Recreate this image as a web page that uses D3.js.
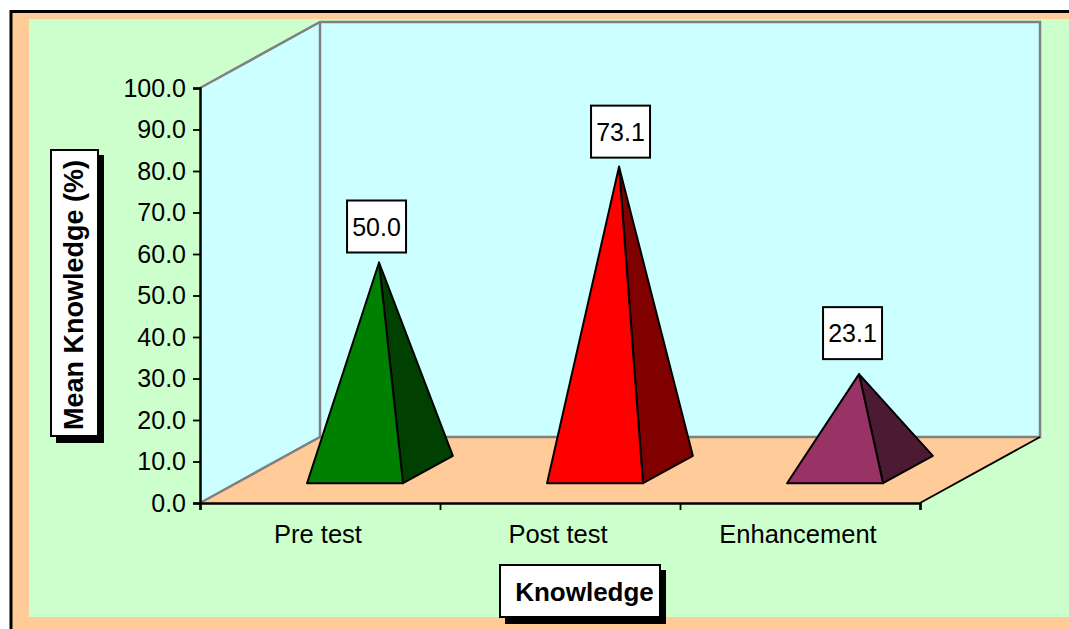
<!DOCTYPE html>
<html>
<head>
<meta charset="utf-8">
<script src="https://cdn.jsdelivr.net/npm/d3@7"></script>
<style>
    html, body { margin: 0; padding: 0; background: #fff; }
    svg { display: block; font-family: "Liberation Sans", Arial, sans-serif; }
</style>
</head>
<body>
<svg width="1069" height="629"></svg>
<script>
var categories = ['Pre test', 'Post test', 'Enhancement'];
var values = [50.0, 73.1, 23.1];
var frontColors = ['#008000', '#ff0000', '#993366'];
var sideColors = ['#004000', '#800000', '#4d1a33'];
var yTicks = [0, 10, 20, 30, 40, 50, 60, 70, 80, 90, 100];

var svg = d3.select('svg');

// plot box and the oblique offset of the back wall
var plotLeft = 200, plotRight = 920, plotTop = 88, plotBottom = 503;
var depthX = 120, depthY = -66;

var xScale = d3.scaleBand().domain(categories).range([plotLeft, plotRight]).paddingInner(0).paddingOuter(0);
var yScale = d3.scaleLinear().domain([0, 100]).range([plotBottom, plotTop]);
var xEdge = d3.scaleLinear().domain([0, 3]).range([plotLeft, plotRight]);

function poly(points, fill, stroke, width) {
    return svg.append('polygon')
        .attr('points', points.map(function (p) { return p.join(','); }).join(' '))
        .attr('fill', fill)
        .attr('stroke', stroke)
        .attr('stroke-width', width)
        .attr('stroke-linejoin', 'round');
}

function box(x, y, w, h, shadow) {
    if (shadow) {
        svg.append('rect').attr('x', x + 5).attr('y', y + 5).attr('width', w + 1).attr('height', h + 2).attr('fill', '#000');
    }
    svg.append('rect').attr('x', x).attr('y', y).attr('width', w).attr('height', h)
        .attr('fill', '#fff').attr('stroke', '#000').attr('stroke-width', 2);
}

// page frame
svg.append('rect').attr('x', 11).attr('y', 11.5).attr('width', 1070).attr('height', 640)
    .attr('fill', '#ffcc99').attr('stroke', '#000').attr('stroke-width', 3);
svg.append('rect').attr('x', 29).attr('y', 19).attr('width', 1040).attr('height', 598).attr('fill', '#ccffcc');

// walls and floor
poly([[plotLeft, plotTop], [plotLeft + depthX, plotTop + depthY], [plotRight + depthX, plotTop + depthY],
    [plotRight + depthX, plotBottom + depthY], [plotLeft + depthX, plotBottom + depthY], [plotLeft, plotBottom]], '#ccffff', 'none', 0);
poly([[plotLeft, plotBottom], [plotLeft + depthX, plotBottom + depthY], [plotRight + depthX, plotBottom + depthY], [plotRight, plotBottom]], '#ffcc99', 'none', 0);
svg.append('path')
    .attr('d', d3.line()([[plotLeft, plotBottom], [plotLeft + depthX, plotBottom + depthY], [plotRight + depthX, plotBottom + depthY],
        [plotRight + depthX, plotTop + depthY], [plotLeft + depthX, plotTop + depthY], [plotLeft, plotTop]]))
    .attr('fill', 'none').attr('stroke', '#808080').attr('stroke-width', 2.5);
svg.append('line').attr('x1', plotLeft + depthX).attr('x2', plotLeft + depthX)
    .attr('y1', plotTop + depthY).attr('y2', plotBottom + depthY)
    .attr('stroke', '#808080').attr('stroke-width', 2.5);
svg.append('line').attr('x1', plotRight).attr('y1', plotBottom).attr('x2', plotRight + depthX).attr('y2', plotBottom + depthY)
    .attr('stroke', '#000').attr('stroke-width', 1.8);

// pyramids
var barShare = 0.4;
var depthFront = 0.292, depthMid = 0.492, depthBack = 0.707;
// the data labels were dragged by hand in the original, so each sits a bit differently
var labelDx = [-32, -28, -36];
var labelDy = [-62, -61, -67];
categories.forEach(function (c, i) {
    var mid = xScale(c) + xScale.bandwidth() / 2;
    var half = xScale.bandwidth() * barShare / 2;
    var x0 = mid - half + depthFront * depthX;
    var x1 = mid + half + depthFront * depthX;
    var yBase = plotBottom + 0.3 * depthY;
    var xBack = mid + half + depthBack * depthX;
    var yBack = plotBottom + 0.715 * depthY;
    var apex = [mid + depthMid * depthX, yScale(values[i]) + 0.5 * depthY];
    poly([apex, [x1, yBase], [xBack, yBack]], sideColors[i], '#000', 2);
    poly([apex, [x0, yBase], [x1, yBase]], frontColors[i], '#000', 2);

    // value label
    var lx = apex[0] + labelDx[i], ly = apex[1] + labelDy[i];
    box(lx, ly, 59, 52, false);
    svg.append('text').attr('x', lx + 29.5).attr('y', ly + 35).attr('text-anchor', 'middle')
        .attr('font-size', 25).attr('fill', '#000').text(values[i].toFixed(1));
});

// axes
var yAxis = d3.axisLeft(yScale).tickValues(yTicks).tickSize(7).tickPadding(7)
    .tickFormat(function (d) { return d.toFixed(1); });
var yG = svg.append('g').attr('transform', 'translate(' + plotLeft + ',0)').call(yAxis);
yG.select('.domain').attr('stroke', '#000').attr('stroke-width', 2.5);
yG.selectAll('.tick line').attr('stroke', '#000').attr('stroke-width', 1.8);
yG.selectAll('text').attr('font-size', 25).attr('font-family', null).attr('fill', '#000');

var xAxis = d3.axisBottom(xEdge).tickValues([0, 1, 2, 3]).tickSize(7).tickFormat('');
var xG = svg.append('g').attr('transform', 'translate(0,' + plotBottom + ')').call(xAxis);
xG.select('.domain').attr('stroke', '#000').attr('stroke-width', 2.5);
xG.selectAll('.tick line').attr('stroke', '#000').attr('stroke-width', 1.8);

svg.selectAll('.cat').data(categories).enter().append('text')
    .attr('class', 'cat')
    .attr('x', function (d) { return xScale(d) + xScale.bandwidth() / 2 - 2; })
    .attr('y', 543)
    .attr('text-anchor', 'middle')
    .attr('font-size', 25.5)
    .attr('fill', '#000')
    .text(function (d) { return d; });

// axis titles
box(51, 150, 47, 286, true);
svg.append('text').attr('transform', 'translate(83,295) rotate(-90)').attr('text-anchor', 'middle')
    .attr('font-size', 27).attr('font-weight', 'bold').attr('fill', '#000').text('Mean Knowledge (%)');
box(500, 565, 160, 52, true);
svg.append('text').attr('x', 584.5).attr('y', 601).attr('text-anchor', 'middle')
    .attr('font-size', 26).attr('font-weight', 'bold').attr('fill', '#000').text('Knowledge');
</script>
</body>
</html>
